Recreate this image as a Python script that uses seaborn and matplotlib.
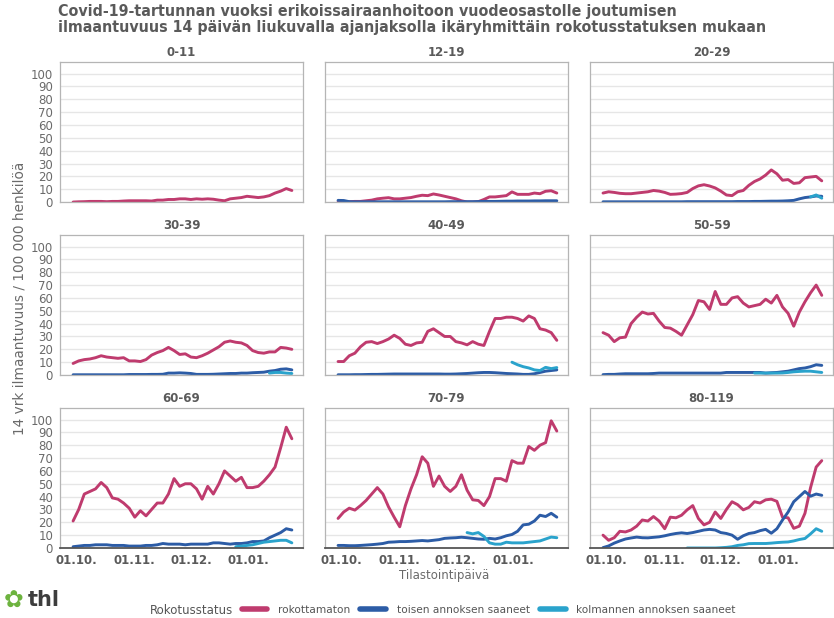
import numpy as np
import pandas as pd
import matplotlib
matplotlib.use("Agg")
import matplotlib.pyplot as plt
import matplotlib.dates as mdates
from matplotlib.lines import Line2D
import seaborn as sns

# --- data (one point every 3 days) ---
dates = pd.date_range("2021-09-29", periods=40, freq="3D")

groups = ["0-11", "12-19", "20-29", "30-39", "40-49", "50-59", "60-69", "70-79", "80-119"]
statuses = ["rokottamaton", "toisen annoksen saaneet", "kolmannen annoksen saaneet"]
colors = ["#bf3b6e", "#2c5ca6", "#2aa3cc"]

rok_0_11 = [0, 0.2, 0.3, 0.5, 0.5, 0.5, 0.3, 0.5, 0.5, 0.8, 1, 1, 1, 1, 0.8, 1.5, 1.5, 2, 2, 2.5,
            2.5, 2, 2.5, 2.2, 2.5, 2.2, 1.5, 1, 2.5, 3, 3.5, 4.5, 4, 3.5, 4, 5, 7, 8.5, 10.5, 9]

rok_12_19 = [0, 0, 0.3, 0.5, 0.5, 1, 1.5, 2.5, 3, 3.4, 2.5, 2.5, 3, 3.5, 4.5, 5.3, 5, 6.3, 5.5, 4.5,
             3.5, 2.5, 1, 0, 0, 0.3, 2, 4, 4, 4.5, 5, 7.9, 6, 6, 6, 7, 6.5, 8.4, 8.8, 7]
toi_12_19 = [1.3, 1.2, 0.3, 0.2, 0.2, 0.2, 0.2, 0.2, 0.2, 0.2, 0.2, 0.2, 0.2, 0.2, 0.2, 0.2, 0.2, 0.2, 0.2, 0.2,
             0.3, 0.3, 0.3, 0.3, 0.3, 0.4, 0.5, 0.5, 0.5, 0.6, 0.7, 0.7, 0.8, 0.8, 0.8, 0.9, 0.9, 1, 1, 1]

rok_20_29 = [7, 8, 7.5, 6.8, 6.5, 6.5, 7, 7.5, 8, 9, 8.5, 7.5, 6, 6.2, 6.6, 7.5, 10.5, 12.6, 13.5, 12.5,
             11, 8.5, 5.5, 5, 8, 9, 13, 16, 18, 21, 25, 22, 17, 17.5, 14.5, 15, 19, 19.5, 20, 16.5]
toi_20_29 = [0.2, 0.2, 0.2, 0.2, 0.2, 0.2, 0.2, 0.2, 0.2, 0.2, 0.2, 0.2, 0.2, 0.2, 0.2, 0.3, 0.3, 0.3, 0.3, 0.3,
             0.3, 0.3, 0.3, 0.3, 0.4, 0.4, 0.4, 0.5, 0.5, 0.6, 0.7, 0.7, 0.8, 1, 1.3, 2.5, 3.5, 4, 4.7, 4.5]
kol_20_29 = [np.nan] * 37 + [4, 5.5, 3]

rok_30_39 = [9, 11, 12, 12.5, 13.5, 15, 14, 13.5, 13, 13.5, 11, 11, 10.5, 12, 15.5, 17.5, 19, 21.5, 19, 16,
             16.5, 14, 13.5, 15, 17, 19.5, 22, 25.5, 26.5, 25.5, 25, 23, 19, 17.5, 17, 18, 18, 21.5, 21, 20]
toi_30_39 = [0.2, 0.2, 0.2, 0.2, 0.2, 0.2, 0.2, 0.2, 0.2, 0.2, 0.4, 0.4, 0.4, 0.4, 0.5, 0.5, 0.6, 1.5, 1.5, 1.7,
             1.5, 1.2, 0.5, 0.5, 0.5, 0.6, 0.8, 1, 1.2, 1.2, 1.5, 1.5, 1.8, 2, 2.2, 3, 3.5, 4.5, 4.8, 4]
kol_30_39 = [np.nan] * 35 + [1.5, 2, 2, 1.5, 1.2]

rok_40_49 = [10.5, 10.5, 15, 17, 22, 25.5, 26, 24.5, 26, 28, 31, 28.5, 24, 23, 25, 25.5, 34, 36, 33, 30,
             30, 26, 25, 23.5, 26, 24, 23, 34, 44, 44, 45, 45, 44, 42, 46, 44, 36, 35, 33, 27]
toi_40_49 = [0.2, 0.2, 0.2, 0.3, 0.3, 0.4, 0.5, 0.5, 0.6, 0.7, 0.8, 0.8, 0.8, 0.8, 0.8, 0.8, 0.8, 0.8, 0.8, 0.7,
             0.7, 0.8, 1, 1.2, 1.5, 1.8, 2, 2, 1.8, 1.5, 1.2, 1, 0.8, 0.5, 0.5, 1, 2, 3, 3.5, 4]
kol_40_49 = [np.nan] * 31 + [10, 8, 6.5, 5.5, 4, 3.5, 6, 5, 5.8]

rok_50_59 = [33, 31, 26, 29, 29.5, 40, 45, 49, 47.5, 48, 42, 37, 36.5, 34, 31, 39, 47, 58, 57, 51,
             65, 55, 55, 60, 61, 56, 53, 54, 55, 59, 56, 62, 53, 48, 38, 49, 57, 64, 70, 62]
toi_50_59 = [0.3, 0.5, 0.5, 0.8, 1, 1, 1, 1, 1, 1.2, 1.5, 1.5, 1.5, 1.5, 1.5, 1.5, 1.5, 1.5, 1.5, 1.5,
             1.5, 1.5, 2, 2, 2, 2, 2, 2, 2, 1.5, 1.8, 2, 2.5, 3, 4, 5, 5.5, 6.5, 8, 7.5]
kol_50_59 = [np.nan] * 27 + [1.5, 1.5, 1.5, 1.5, 1.5, 1.6, 2, 2.5, 2.8, 3, 3, 2.5, 2]

rok_60_69 = [21, 30, 42, 44, 46, 51, 47, 39, 38, 35, 31, 24, 29, 25, 30, 35, 35, 42, 54, 48,
             50, 50, 46, 38, 48, 42, 50, 60, 56, 52, 55, 47, 47, 48, 52, 57, 63, 78, 94, 85]
toi_60_69 = [1, 1.5, 2, 2, 2.5, 2.5, 2.5, 2, 2, 2, 1.5, 1.5, 1.5, 2, 2, 2.5, 3.5, 3, 3, 3,
             2.5, 3, 3, 3, 3, 4, 4, 3.5, 3, 3.5, 3.5, 4, 5, 5, 5.5, 8, 10, 12, 15, 14]
kol_60_69 = [np.nan] * 29 + [1, 1.5, 2, 2.5, 3.5, 4.5, 5, 5.5, 6, 6, 4]

rok_70_79 = [23, 28, 31, 29.5, 33, 37, 42, 47, 42, 32, 24, 16.5, 33, 46, 57, 71, 66, 48, 56, 48,
             44, 48, 57, 45, 37.5, 37, 33, 40, 54, 54, 52, 68, 66, 66, 79, 76, 80, 82, 99, 91]
toi_70_79 = [2, 2, 1.8, 1.8, 2, 2.3, 2.6, 3, 3.5, 4.5, 4.7, 5, 5, 5.2, 5.5, 5.8, 5.5, 6, 6.5, 7.5,
             7.8, 8, 8.4, 8, 7.5, 7, 6.8, 7.5, 7, 8, 9.5, 10.5, 13, 18, 18.5, 21, 25.5, 24.5, 27, 24]
kol_70_79 = [np.nan] * 23 + [12, 11, 12, 9, 4, 3, 3, 4.5, 4, 4, 4, 4.5, 5, 5.5, 7, 8.5, 8]

rok_80_119 = [10, 6, 8, 13, 12.5, 14, 17, 21.8, 21, 24.5, 21, 15, 24, 23.5, 25.5, 29.7, 33, 23, 18, 20,
              28, 23, 30, 36, 33.7, 29.7, 31.6, 36, 35, 37.5, 38, 36.3, 24, 23.5, 15.3, 17, 27, 47, 63, 68]
toi_80_119 = [0.3, 1.6, 3.8, 5.5, 7, 7.8, 8.5, 8, 7.9, 8.3, 8.7, 9.5, 10.5, 11.3, 11.8, 11.3, 12, 13, 14, 14.5,
              14, 12, 11.3, 10, 6.8, 9.5, 11.3, 12, 13.5, 14.5, 11.5, 15, 21.8, 28, 36, 40, 44, 40.3, 42, 41]
kol_80_119 = [np.nan] * 15 + [0, 0, 0, 0, 0, 0, 0.2, 0.5, 1, 2, 2.5, 3.4, 3.5, 3.5, 3.5, 3.8, 4.2, 4.5, 4.7, 5.5,
                              6.6, 7.4, 11, 15, 13]

panel_series = {
    "0-11": [rok_0_11, None, None],
    "12-19": [rok_12_19, toi_12_19, None],
    "20-29": [rok_20_29, toi_20_29, kol_20_29],
    "30-39": [rok_30_39, toi_30_39, kol_30_39],
    "40-49": [rok_40_49, toi_40_49, kol_40_49],
    "50-59": [rok_50_59, toi_50_59, kol_50_59],
    "60-69": [rok_60_69, toi_60_69, kol_60_69],
    "70-79": [rok_70_79, toi_70_79, kol_70_79],
    "80-119": [rok_80_119, toi_80_119, kol_80_119],
}

rows = []
for g in groups:
    for st, vals in zip(statuses, panel_series[g]):
        if vals is None:
            continue
        for d, v in zip(dates, vals):
            rows.append((g, d, st, v))
df = pd.DataFrame(rows, columns=["ikaryhma", "paiva", "status", "arvo"]).dropna()

# --- plot ---
sns.set_style("white")
plt.rcParams["font.family"] = ["DejaVu Sans"]

fig, axes = plt.subplots(3, 3, figsize=(8.34, 6.18), dpi=100, sharex=True, sharey=True)
fig.subplots_adjust(left=60 / 834, right=833 / 834, top=1 - 62 / 618, bottom=1 - 548 / 618,
                    wspace=0.09, hspace=0.235)

grey_txt = "#5a5a5a"
for k, (g, ax) in enumerate(zip(groups, axes.flat)):
    sub = df[df["ikaryhma"] == g]
    sns.lineplot(data=sub, x="paiva", y="arvo", hue="status", hue_order=statuses,
                 palette=colors, estimator=None, linewidth=2.1, legend=False, ax=ax)
    ax.set_title(g, fontweight="bold", color=grey_txt, fontsize=8.5, pad=4)
    ax.set_xlabel("")
    ax.set_ylabel("")
    ax.set_ylim(0, 109)
    ax.set_yticks(range(0, 101, 10))
    ax.set_xlim(pd.Timestamp("2021-09-22"), pd.Timestamp("2022-01-30"))
    ax.set_xticks(pd.to_datetime(["2021-10-01", "2021-11-01", "2021-12-01", "2022-01-01"]))
    ax.xaxis.set_major_formatter(mdates.DateFormatter("%d.%m."))
    ax.grid(axis="y", color="#e6e6e6", linewidth=1)
    ax.set_axisbelow(True)
    for sp in ax.spines.values():
        sp.set_color("#b5b5b5")
        sp.set_linewidth(0.9)
    ax.tick_params(axis="y", length=0, labelsize=8.5, labelcolor="#6a6a6a", pad=5)
    if k >= 6:
        ax.spines["bottom"].set_color("#555555")
        ax.spines["bottom"].set_linewidth(1.3)
        ax.tick_params(axis="x", length=3.5, width=1, color="#555555", labelsize=8.5,
                       labelcolor=grey_txt, pad=0.5)
        for lab in ax.get_xticklabels():
            lab.set_fontweight("bold")
    else:
        ax.tick_params(axis="x", length=0)

fig.text(58 / 834, 1 - 4 / 618,
         "Covid-19-tartunnan vuoksi erikoissairaanhoitoon vuodeosastolle joutumisen\n"
         "ilmaantuvuus 14 päivän liukuvalla ajanjaksolla ikäryhmittäin rokotusstatuksen mukaan",
         ha="left", va="top", fontsize=11.45, fontweight="bold", fontstretch="condensed",
         color=grey_txt, linespacing=1.05)

fig.text(20 / 834, 1 - 298 / 618, "14 vrk ilmaantuvuus / 100 000 henkilöä", rotation=90,
         ha="center", va="center", fontsize=9.8, color="#6a6a6a")
fig.text(444 / 834, 1 - 575 / 618, "Tilastointipäivä", ha="center", va="center",
         fontsize=8.5, color="#6a6a6a")

# legend
fig.text(150 / 834, 1 - 610 / 618, "Rokotusstatus", ha="left", va="center", fontsize=8.5, color="#555555")
handles = [Line2D([], [], color=c, linewidth=4) for c in colors]
fig.legend(handles, statuses, ncol=3, loc="center left", bbox_to_anchor=(232 / 834, 1 - 610 / 618),
           frameon=False, fontsize=7.6, handlelength=2.45, handletextpad=1.0, columnspacing=0.95,
           labelcolor="#555555")

# thl logo
fig.text(4 / 834, 1 - 601 / 618, "\u273f", ha="left", va="center", fontsize=17, color="#6db33f",
         fontweight="bold")
fig.text(28 / 834, 1 - 600 / 618, "thl", ha="left", va="center", fontsize=15, color="#3d3d3d",
         fontweight="bold")

fig.savefig("out.png", dpi=100)
